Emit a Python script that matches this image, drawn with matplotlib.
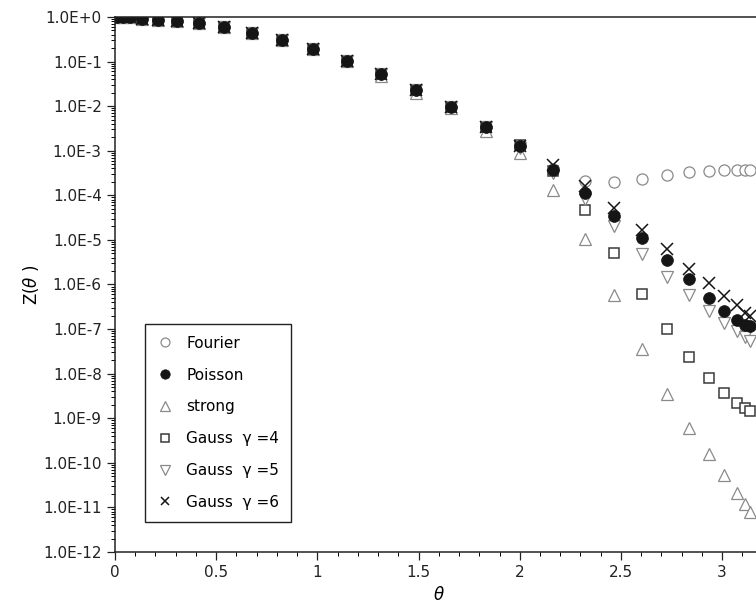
#!/usr/bin/env python3
"""Partition function Z(theta) for several regularisations, log scale.

Fourier / Poisson / strong coupling / Gauss kernels with gamma = 4, 5, 6,
sampled on the same theta grid in [0, pi].
"""

import matplotlib.pyplot as plt
from matplotlib.ticker import FixedLocator, FuncFormatter, LogLocator, MultipleLocator

# ── theta grid (shared by every series) ─────────────────────────────────────
theta = [0.01, 0.04, 0.075, 0.135, 0.213, 0.308, 0.416, 0.538, 0.675, 0.823,
         0.98, 1.145, 1.314, 1.487, 1.658, 1.831, 2.0, 2.163, 2.322, 2.467,
         2.602, 2.726, 2.836, 2.933, 3.01, 3.072, 3.113, 3.137]

# Low-theta part is identical for all kernels
z_common = [1.0, 0.99, 0.98, 0.90, 0.86, 0.81, 0.72, 0.59, 0.43, 0.305,
            0.19, 0.105, 0.052, 0.023, 0.0095, 0.0034]

z_fourier = z_common + [1.25e-3, 3.8e-4, 2.05e-4, 1.95e-4, 2.35e-4, 2.9e-4,
                        3.3e-4, 3.55e-4, 3.7e-4, 3.75e-4, 3.75e-4, 3.75e-4]
z_poisson = z_common + [1.25e-3, 3.7e-4, 1.15e-4, 3.5e-5, 1.1e-5, 3.6e-6,
                        1.3e-6, 5.1e-7, 2.6e-7, 1.6e-7, 1.26e-7, 1.2e-7]
z_strong = z_common[:12] + [0.047, 0.020, 0.0089, 0.0028,
                            8.9e-4, 1.29e-4, 1.05e-5, 5.9e-7, 3.5e-8, 3.5e-9,
                            5.9e-10, 1.55e-10, 5.2e-11, 2.1e-11, 1.17e-11, 7.9e-12]
z_gauss4 = z_common + [1.35e-3, 3.5e-4, 4.8e-5, 5.1e-6, 6.2e-7, 9.8e-8,
                       2.35e-8, 7.9e-9, 3.7e-9, 2.2e-9, 1.7e-9, 1.48e-9]
z_gauss5 = z_common + [1.15e-3, 3.2e-4, 8.3e-5, 2.0e-5, 4.9e-6, 1.5e-6,
                       5.8e-7, 2.6e-7, 1.4e-7, 8.9e-8, 6.6e-8, 5.4e-8]
z_gauss6 = z_common + [1.3e-3, 4.9e-4, 1.65e-4, 5.1e-5, 1.7e-5, 6.3e-6,
                       2.2e-6, 1.1e-6, 5.4e-7, 3.4e-7, 2.3e-7, 1.95e-7]

labels = ["Fourier", "Poisson", "strong",
          "Gauss  γ =4", "Gauss  γ =5", "Gauss  γ =6"]

y_decades = list(range(0, -13, -1))


def _sci(v, _pos):
    """1.0E-3 style tick labels."""
    for e in y_decades:
        if abs(v - 10.0 ** e) < 1e-3 * 10.0 ** e:
            return "1.0E+0" if e == 0 else f"1.0E{e}"
    return ""


# ── Figure ──────────────────────────────────────────────────────────────────
plt.rcParams["font.family"] = "DejaVu Sans"
plt.rcParams["mathtext.fontset"] = "dejavusans"

fig = plt.figure(figsize=(7.56, 6.03), dpi=100)
ax = fig.add_axes([0.1521, 0.0846, 0.8567, 0.8872])

grey = "#8a8a8a"
# draw order: open markers first, filled Poisson and crosses on top
h_four, = ax.plot(theta, z_fourier, ls="none", marker="o", ms=8,
                  mfc="white", mec=grey, mew=0.9)
h_str, = ax.plot(theta, z_strong, ls="none", marker="^", ms=8.5,
                 mfc="white", mec=grey, mew=0.9)
h_g4, = ax.plot(theta, z_gauss4, ls="none", marker="s", ms=7.5,
                mfc="white", mec="#3a3a3a", mew=1.1)
h_g5, = ax.plot(theta, z_gauss5, ls="none", marker="v", ms=8.5,
                mfc="white", mec=grey, mew=0.9)
h_poi, = ax.plot(theta, z_poisson, ls="none", marker="o", ms=8.5,
                 mfc="#151515", mec="#151515", mew=0.5)
h_g6, = ax.plot(theta, z_gauss6, ls="none", marker="x", ms=8,
                mec="#151515", mew=1.1)

ax.set_yscale("log")
ax.set_xlim(0, 3.2)
ax.set_ylim(1e-12, 1.0)

ax.yaxis.set_major_locator(FixedLocator([10.0 ** e for e in y_decades]))
ax.yaxis.set_major_formatter(FuncFormatter(_sci))
ax.yaxis.set_minor_locator(LogLocator(base=10, subs=range(2, 10), numticks=30))
ax.xaxis.set_major_locator(MultipleLocator(0.5))
ax.xaxis.set_minor_locator(MultipleLocator(0.1))
ax.xaxis.set_major_formatter(FuncFormatter(lambda v, _p: f"{v:g}"))

ax.tick_params(which="major", direction="out", length=6, width=0.9,
               labelsize=11, colors="#222222")
ax.tick_params(which="minor", direction="out", length=3, width=0.7)
for sp in ax.spines.values():
    sp.set_linewidth(1.1)
    sp.set_color("#222222")

ax.set_ylabel(r"Z($\theta$ )", fontsize=12, labelpad=2)
ax.set_xlabel(r"$\theta$", fontsize=12, labelpad=4)

leg = ax.legend([h_four, h_poi, h_str, h_g4, h_g5, h_g6], labels,
                loc="lower left", bbox_to_anchor=(0.046, 0.056),
                fontsize=11, frameon=True, fancybox=False, framealpha=1,
                edgecolor="#222222", handlelength=1.0, handletextpad=0.9,
                labelspacing=1.1, borderpad=0.8, borderaxespad=0,
                markerscale=0.8)
leg.get_frame().set_linewidth(1.0)

fig.savefig("out.png", dpi=100)
